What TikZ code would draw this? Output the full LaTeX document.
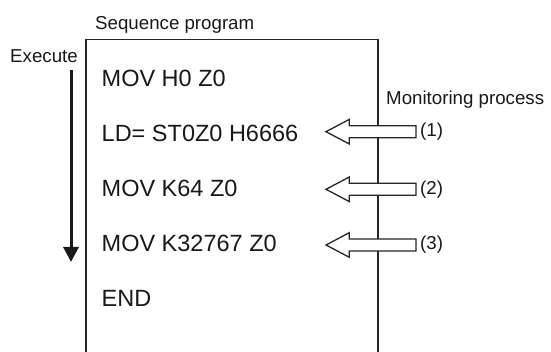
\documentclass[tikz,border=0pt]{standalone}
\usepackage{fontspec}
\setmainfont{Liberation Sans}
\usetikzlibrary{arrows.meta}
\begin{document}
\begin{tikzpicture}[x=1pt,y=-1pt,
  codetext/.style={anchor=base west,inner sep=0pt,font=\fontsize{23.5}{28}\selectfont,text=black!90},
  smalltext/.style={anchor=base west,inner sep=0pt,font=\fontsize{18.7}{22}\selectfont,text=black!90},
  blockarrow/.style={draw=black!85,fill=white,line width=1.3pt,line join=miter},
  frameline/.style={draw=black!85,line width=1.4pt}]
\useasboundingbox (0,0) rectangle (551,352);
% program frame (open at the bottom)
\coordinate (fbl) at (86,353);
\coordinate (ftl) at (86,39.3);
\coordinate (ftr) at (378,39.3);
\coordinate (fbr) at (378,353);
\draw[frameline] (fbl) -- (ftl) -- (ftr) -- (fbr);
% titles
\node[smalltext] (seq) at (95,30) {Sequence program};
\node[smalltext] (exe) at (10,62.7) {Execute};
\node[smalltext] (mon) at (386,105) {Monitoring process};
% program lines
\node[codetext] (l1) at (101.5,86.7) {MOV H0 Z0};
\node[codetext] (l2) at (101.5,141.6) {LD= ST0Z0 H6666};
\node[codetext] (l3) at (101.5,196.2) {MOV K64 Z0};
\node[codetext] (l4) at (101.5,251.7) {MOV K32767 Z0};
\node[codetext] (l5) at (101.5,306.7) {END};
% execute arrow
\coordinate (ea) at (71,70);
\coordinate (eb) at (71,262);
\draw[line width=3pt,draw=black!90,-{Triangle[width=15pt,length=15pt]}] (ea) -- (eb);
% monitoring block arrows
\foreach \y/\t in {131.7/1,189.3/2,245/3}{
  \draw[blockarrow] (326,\y) -- (349.3,\y-12.3) -- (349.3,\y-6) -- (416,\y-6)
     -- (416,\y+6) -- (349.3,\y+6) -- (349.3,\y+12.3) -- cycle;
  \node[anchor=west,inner sep=0pt,font=\fontsize{18.7}{22}\selectfont,text=black!90] (m\t) at (420,\y) {(\t)};
}
\end{tikzpicture}
\end{document}
